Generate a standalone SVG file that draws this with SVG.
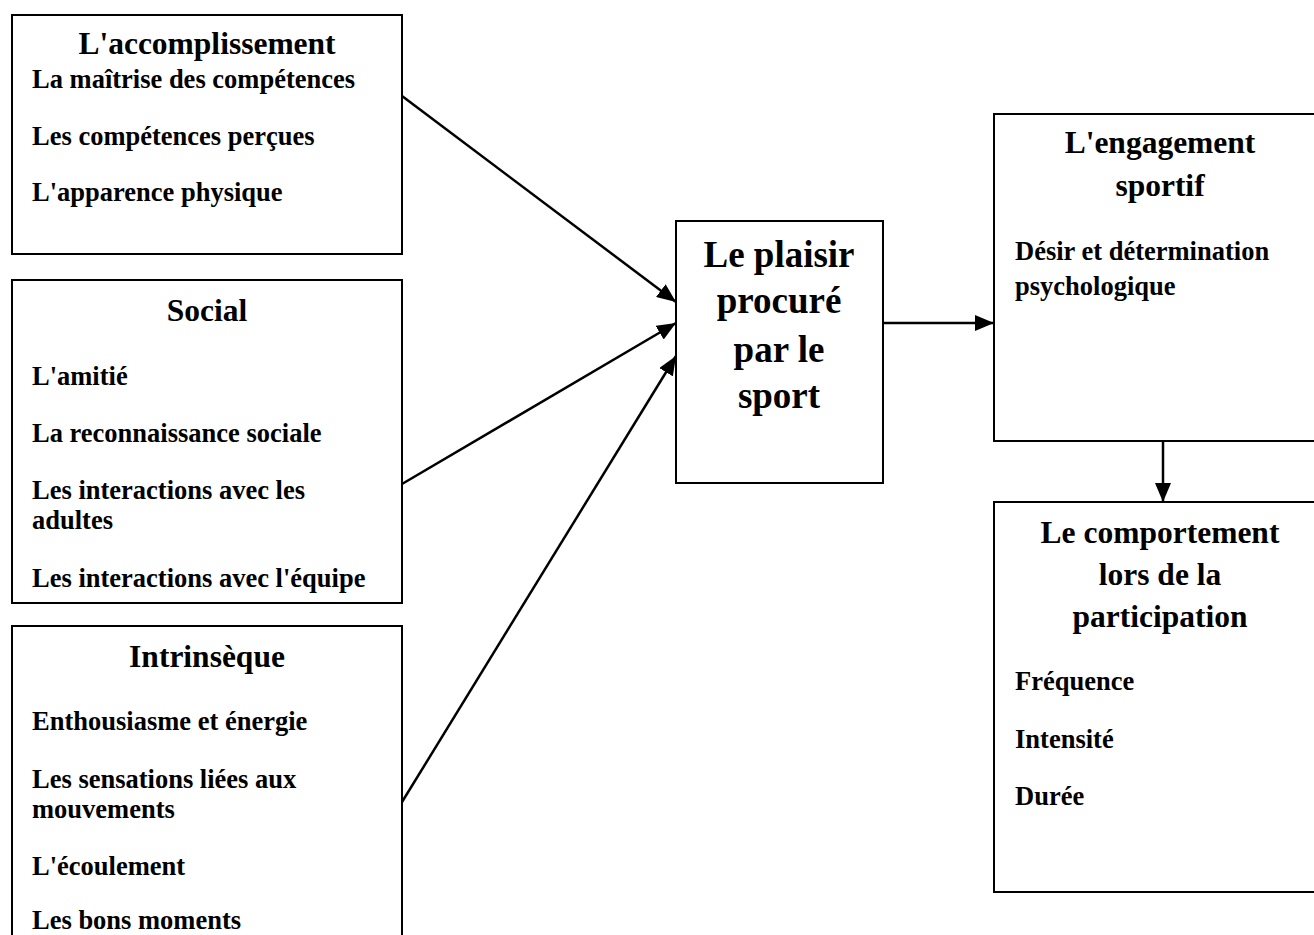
<svg xmlns="http://www.w3.org/2000/svg" width="1314" height="935" viewBox="0 0 1314 935">
<style>
.box{fill:#fff;stroke:#000;stroke-width:2}
text{font-family:"Liberation Serif","Times New Roman",serif;font-weight:bold;fill:#000}
.t{font-size:31.5px;text-anchor:middle}
.i{font-size:26.5px}
.c{font-size:37px;text-anchor:middle}
.edge{stroke:#000;stroke-width:2.5;fill:none;marker-end:url(#ah)}
</style>
<defs>
<marker id="ah" markerUnits="userSpaceOnUse" markerWidth="20" markerHeight="16" refX="19" refY="8" orient="auto">
<path d="M0,0 L19,8 L0,16 Z" fill="#000"/>
</marker>
</defs>
<rect width="1314" height="935" fill="#fff"/>
<g id="n-accomplissement">
<rect class="box" x="12" y="15" width="390" height="239"/>
<text class="t" x="207" y="54">L'accomplissement</text>
<text class="i" x="32" y="88">La maîtrise des compétences</text>
<text class="i" x="32" y="145">Les compétences perçues</text>
<text class="i" x="32" y="201">L'apparence physique</text>
</g>
<g id="n-social">
<rect class="box" x="12" y="280" width="390" height="323"/>
<text class="t" x="207" y="321">Social</text>
<text class="i" x="32" y="385">L'amitié</text>
<text class="i" x="32" y="442">La reconnaissance sociale</text>
<text class="i" x="32" y="499">Les interactions avec les</text>
<text class="i" x="32" y="529">adultes</text>
<text class="i" x="32" y="587">Les interactions avec l'équipe</text>
</g>
<g id="n-intrinseque">
<rect class="box" x="12" y="626" width="390" height="340"/>
<text class="t" x="207" y="667">Intrinsèque</text>
<text class="i" x="32" y="730">Enthousiasme et énergie</text>
<text class="i" x="32" y="788">Les sensations liées aux</text>
<text class="i" x="32" y="818">mouvements</text>
<text class="i" x="32" y="875">L'écoulement</text>
<text class="i" x="32" y="929">Les bons moments</text>
</g>
<g id="n-plaisir">
<rect class="box" x="676" y="221" width="207" height="262"/>
<text class="c" x="779" y="267">Le plaisir</text>
<text class="c" x="779" y="313">procuré</text>
<text class="c" x="779" y="362">par le</text>
<text class="c" x="779" y="408">sport</text>
</g>
<g id="n-engagement">
<rect class="box" x="994" y="114" width="340" height="327"/>
<text class="t" x="1160" y="153">L'engagement</text>
<text class="t" x="1160" y="196">sportif</text>
<text class="i" x="1015" y="260">Désir et détermination</text>
<text class="i" x="1015" y="295">psychologique</text>
</g>
<g id="n-comportement">
<rect class="box" x="994" y="502" width="340" height="390"/>
<text class="t" x="1160" y="543">Le comportement</text>
<text class="t" x="1160" y="585">lors de la</text>
<text class="t" x="1160" y="627">participation</text>
<text class="i" x="1015" y="690">Fréquence</text>
<text class="i" x="1015" y="748">Intensité</text>
<text class="i" x="1015" y="805">Durée</text>
</g>
<g id="connectors">
<line class="edge" x1="402" y1="96" x2="676" y2="302"/>
<line class="edge" x1="402" y1="484" x2="676" y2="323"/>
<line class="edge" x1="402" y1="802" x2="676" y2="356"/>
<line class="edge" x1="883" y1="323" x2="994" y2="323"/>
<line class="edge" x1="1163" y1="441" x2="1163" y2="502"/>
</g>
</svg>
